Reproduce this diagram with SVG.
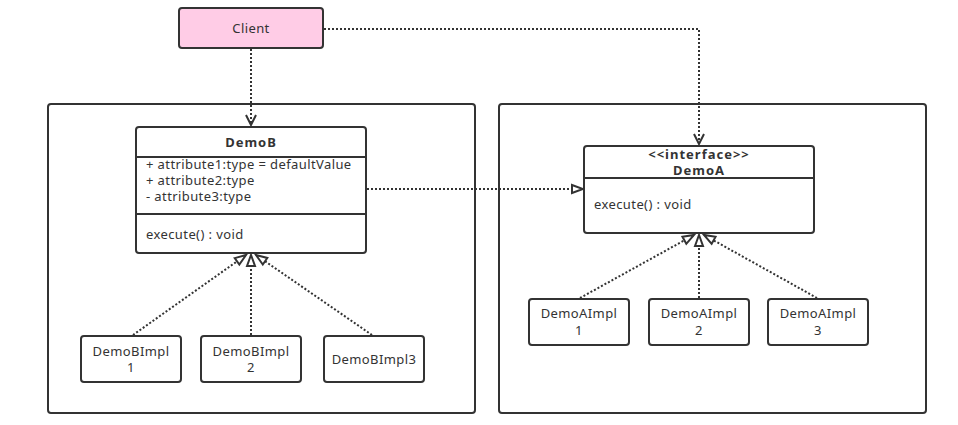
<svg xmlns="http://www.w3.org/2000/svg" width="958" height="425" viewBox="0 0 958 425">
  <style>
    .box { fill: #ffffff; stroke: #333333; stroke-width: 2; }
    .client { fill: #ffcce6; stroke: #333333; stroke-width: 2; }
    .sep { stroke: #333333; stroke-width: 2; fill: none; }
    .t { font-family: "Noto Sans", "Open Sans", sans-serif; font-size: 13px; fill: #333333; letter-spacing: 0.4px; }
    .c { text-anchor: middle; }
    .b { font-weight: bold; letter-spacing: 1px; }
    .dep { stroke: #333333; stroke-width: 2; fill: none; stroke-dasharray: 2 2; }
  </style>
  <defs>
    <marker id="open" markerWidth="14" markerHeight="12" refX="12" refY="6" orient="auto" markerUnits="userSpaceOnUse">
      <path d="M2,1 L12,6 L2,11" fill="none" stroke="#333333" stroke-width="2"/>
    </marker>
    <marker id="tri" markerWidth="16" markerHeight="14" refX="14" refY="7" orient="auto" markerUnits="userSpaceOnUse">
      <path d="M3,3 L14,7 L3,11 Z" fill="#ffffff" stroke="#333333" stroke-width="2"/>
    </marker>
  </defs>

  <!-- containers -->
  <g id="containerB"><rect class="box" x="48" y="104" width="427" height="309" rx="3"/></g>
  <g id="containerA"><rect class="box" x="499" y="104" width="427" height="309" rx="3"/></g>

  <g id="client">
    <rect class="client" x="179" y="8" width="144" height="40" rx="3"/>
    <text class="t c" x="251" y="33">Client</text>
  </g>

  <g id="demoB">
    <rect class="box" x="136" y="127" width="230" height="126" rx="3"/>
    <line class="sep" x1="136" y1="157" x2="366" y2="157"/>
    <line class="sep" x1="136" y1="214" x2="366" y2="214"/>
    <text class="t c b" x="251" y="147">DemoB</text>
    <text class="t" x="146" y="169">+ attribute1:type = defaultValue</text>
    <text class="t" x="146" y="185">+ attribute2:type</text>
    <text class="t" x="146" y="201">- attribute3:type</text>
    <text class="t" x="146" y="239">execute() : void</text>
  </g>

  <g id="demoA">
    <rect class="box" x="584" y="146" width="230" height="87" rx="3"/>
    <line class="sep" x1="584" y1="178" x2="814" y2="178"/>
    <text class="t c b" x="699" y="159">&lt;&lt;interface&gt;&gt;</text>
    <text class="t c b" x="699" y="175">DemoA</text>
    <text class="t" x="594" y="209">execute() : void</text>
  </g>

  <g id="demoBImpl1">
    <rect class="box" x="81" y="336" width="100" height="46" rx="3"/>
    <text class="t c" x="131" y="356">DemoBImpl</text>
    <text class="t c" x="131" y="372">1</text>
  </g>
  <g id="demoBImpl2">
    <rect class="box" x="201" y="336" width="100" height="46" rx="3"/>
    <text class="t c" x="251" y="356">DemoBImpl</text>
    <text class="t c" x="251" y="372">2</text>
  </g>
  <g id="demoBImpl3">
    <rect class="box" x="324" y="336" width="100" height="46" rx="3"/>
    <text class="t c" x="374" y="364">DemoBImpl3</text>
  </g>

  <g id="demoAImpl1">
    <rect class="box" x="529" y="299" width="100" height="46" rx="3"/>
    <text class="t c" x="579" y="318">DemoAImpl</text>
    <text class="t c" x="579" y="335">1</text>
  </g>
  <g id="demoAImpl2">
    <rect class="box" x="649" y="299" width="100" height="46" rx="3"/>
    <text class="t c" x="699" y="318">DemoAImpl</text>
    <text class="t c" x="699" y="335">2</text>
  </g>
  <g id="demoAImpl3">
    <rect class="box" x="768" y="299" width="100" height="46" rx="3"/>
    <text class="t c" x="818" y="318">DemoAImpl</text>
    <text class="t c" x="818" y="335">3</text>
  </g>

  <!-- connectors -->
  <g id="connectors">
    <path class="dep" d="M251,49 L251,125" marker-end="url(#open)"/>
    <path class="dep" d="M324,29 L699,29 L699,144" marker-end="url(#open)"/>
    <path class="dep" d="M367,189 L583,189" marker-end="url(#tri)"/>

    <path class="dep" d="M133,335 L246,255" marker-end="url(#tri)"/>
    <path class="dep" d="M251,335 L251,255" marker-end="url(#tri)"/>
    <path class="dep" d="M372,335 L256,255" marker-end="url(#tri)"/>

    <path class="dep" d="M580,298 L694,235" marker-end="url(#tri)"/>
    <path class="dep" d="M699,298 L699,235" marker-end="url(#tri)"/>
    <path class="dep" d="M817,298 L704,235" marker-end="url(#tri)"/>
  </g>
</svg>
